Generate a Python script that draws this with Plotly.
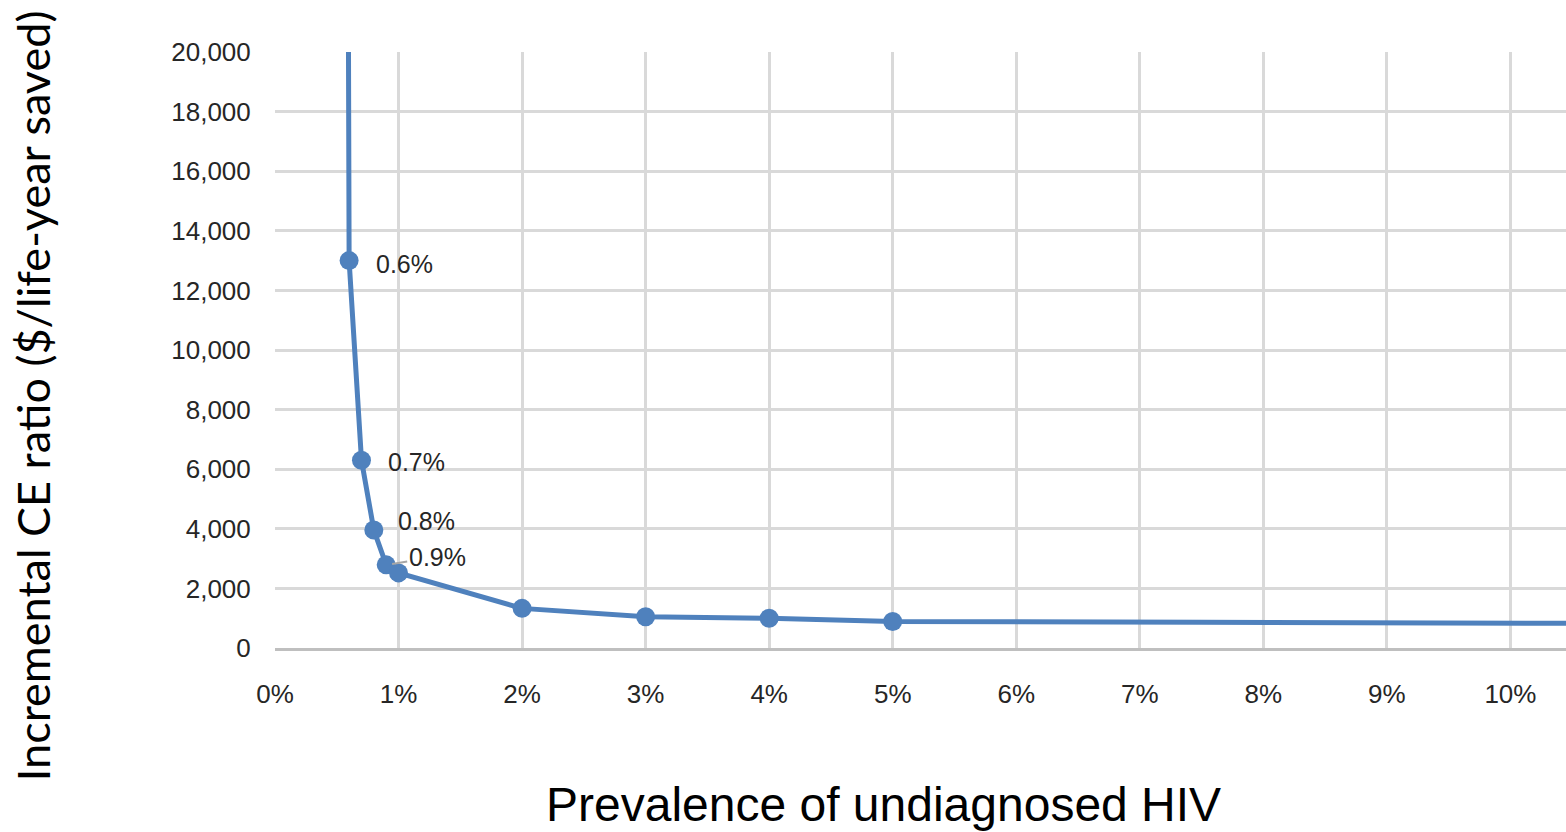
import plotly.graph_objects as go

# Data (prevalence in %, incremental CE ratio in $/life-year saved)
prevalence = [0.5, 0.6, 0.7, 0.8, 0.9, 1.0, 2.0, 3.0, 4.0, 5.0, 7.5, 10.0, 15.0]
ce_ratio = [150000, 13000, 6300, 3960, 2790, 2520, 1330, 1050, 1000, 890, 860, 830, 780]

# points shown with markers
marker_prevalence = [0.5, 0.6, 0.7, 0.8, 0.9, 1.0, 2.0, 3.0, 4.0, 5.0]

labelled_points = [0.6, 0.7, 0.8, 0.9]
label_texts = ["0.6%", "0.7%", "0.8%", "0.9%"]

x_ticks = [0, 1, 2, 3, 4, 5, 6, 7, 8, 9, 10]
x_tick_labels = ["0%", "1%", "2%", "3%", "4%", "5%", "6%", "7%", "8%", "9%", "10%"]
y_ticks = [0, 2000, 4000, 6000, 8000, 10000, 12000, 14000, 16000, 18000, 20000]
y_tick_labels = ["0", "2,000", "4,000", "6,000", "8,000", "10,000", "12,000",
                 "14,000", "16,000", "18,000", "20,000"]

BLUE = "#4f81bd"
GRID = "#d9d9d9"
TXT = "#262626"
SANS = "Liberation Sans, Arial, sans-serif"

lookup = dict(zip(prevalence, ce_ratio))
mx = list(marker_prevalence)
my = [lookup[p] for p in marker_prevalence]

fig = go.Figure()
fig.add_trace(go.Scatter(x=prevalence, y=ce_ratio, mode="lines",
                         line=dict(color=BLUE, width=5), hoverinfo="skip",
                         showlegend=False))
fig.add_trace(go.Scatter(x=mx, y=my, mode="markers",
                         marker=dict(color=BLUE, size=19), showlegend=False))

# data labels
offsets = {0.6: (25, -3, False), 0.7: (25, -2, False), 0.8: (22, 9, False), 0.9: (23, 8, True)}
for p, t in zip(labelled_points, label_texts):
    dx, dy, leader = offsets[p]
    if leader:
        fig.add_annotation(x=p, y=lookup[p], text=t, showarrow=True,
                           ax=dx + 28, ay=-dy, arrowhead=0, arrowwidth=2,
                           arrowcolor="#a6a6a6", standoff=6,
                           font=dict(family=SANS, size=25, color=TXT))
    else:
        fig.add_annotation(x=p, y=lookup[p], text=t, showarrow=False,
                           xanchor="left", yanchor="middle", xshift=dx, yshift=dy,
                           font=dict(family=SANS, size=25, color=TXT))

# axis titles
fig.add_annotation(xref="paper", yref="paper", x=-0.1875, y=0.424,
                   text="Incremental CE ratio ($/life-year saved)", textangle=-90,
                   showarrow=False, xanchor="center", yanchor="middle",
                   font=dict(family="Lato, Carlito, sans-serif", size=45, color="#000000"))
fig.add_annotation(xref="paper", yref="paper", x=0.4717, y=-0.2634,
                   text="Prevalence of undiagnosed HIV",
                   showarrow=False, xanchor="center", yanchor="middle",
                   font=dict(family=SANS, size=48, color="#000000"))

fig.update_layout(
    width=1566, height=832,
    margin=dict(l=275, r=0, t=52, b=184, pad=0),
    plot_bgcolor="white", paper_bgcolor="white",
    xaxis=dict(range=[0, 10.45], tickvals=x_ticks, ticktext=x_tick_labels,
               showgrid=True, gridcolor=GRID, gridwidth=2.5, zeroline=False,
               showline=True, linecolor="#bfbfbf", linewidth=3,
               ticks="outside", ticklen=0, ticklabelstandoff=21,
               tickfont=dict(family=SANS, size=26, color=TXT)),
    yaxis=dict(range=[0, 20000], tickvals=y_ticks, ticktext=y_tick_labels,
               showgrid=True, gridcolor=GRID, gridwidth=2.5, zeroline=False,
               showline=False, ticks="outside", ticklen=0, ticklabelstandoff=18,
               tickfont=dict(family=SANS, size=26, color=TXT)),
)

fig.write_html("out.html")
